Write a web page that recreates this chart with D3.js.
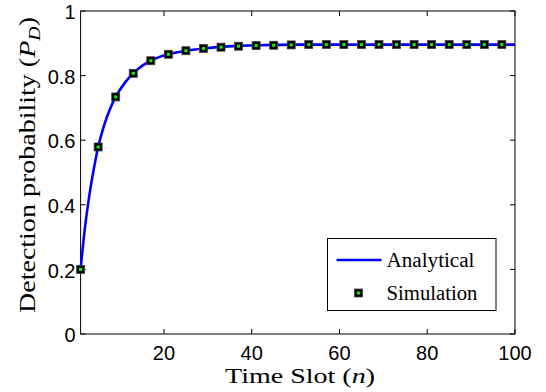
<!DOCTYPE html>
<html>
<head>
<meta charset="utf-8">
<script src="https://cdn.jsdelivr.net/npm/d3@7"></script>
<style>
  html, body { margin: 0; padding: 0; background: #fff; }
  svg { display: block; }
</style>
</head>
<body>
<svg id="chart" width="546" height="392"></svg>
<script>
// ---- data ----
const analyticalN = [1, 2, 3, 4, 5, 6, 7, 8, 9, 10, 11, 12, 13, 15, 17, 19, 21, 25, 29, 33, 37, 41, 50, 60, 70, 80, 90, 100];
const analyticalP = [0.2, 0.33, 0.43, 0.51, 0.579, 0.63, 0.672, 0.706, 0.734, 0.757, 0.776, 0.793, 0.807, 0.83, 0.846, 0.858, 0.866, 0.877, 0.884, 0.889, 0.892, 0.894, 0.896, 0.896, 0.896, 0.896, 0.896, 0.896];
const simulationN = [1, 5, 9, 13, 17, 21, 25, 29, 33, 37, 41, 45, 49, 53, 57, 61, 65, 69, 73, 77, 81, 85, 89, 93, 97];
const simulationP = [0.2, 0.579, 0.734, 0.807, 0.846, 0.866, 0.877, 0.884, 0.888, 0.891, 0.893, 0.894, 0.895, 0.896, 0.896, 0.896, 0.896, 0.896, 0.896, 0.896, 0.896, 0.896, 0.896, 0.896, 0.896];
const xTicks = [20, 40, 60, 80, 100];
const yTicks = [0, 0.2, 0.4, 0.6, 0.8, 1];
const yTickLabels = ["0", "0.2", "0.4", "0.6", "0.8", "1"];
const legendLabels = ["Analytical", "Simulation"];

// ---- layout ----
const svg = d3.select("#chart");
const L = 80.6, R = 515, T = 11, B = 334;
const x = d3.scaleLinear().domain([1, 100]).range([L, R]);
const y = d3.scaleLinear().domain([0, 1]).range([B, T]);
const sansFont = "'Liberation Sans', Arial, Helvetica, sans-serif";
const serifFont = "'Liberation Serif', 'Times New Roman', serif";

// box
svg.append("rect").attr("x", L).attr("y", T).attr("width", R - L).attr("height", B - T)
  .attr("fill", "none").attr("stroke", "#000").attr("stroke-width", 1);

const tl = 5;
// x ticks (bottom & top, inward)
const gx = svg.append("g");
xTicks.forEach(v => {
  const px = x(v);
  gx.append("line").attr("x1", px).attr("x2", px).attr("y1", B).attr("y2", B - tl).attr("stroke", "#000");
  gx.append("line").attr("x1", px).attr("x2", px).attr("y1", T).attr("y2", T + tl).attr("stroke", "#000");
  gx.append("text").attr("x", px).attr("y", 359.5).attr("text-anchor", "middle")
    .attr("font-family", sansFont).attr("font-size", 20).text(v);
});
// y ticks (left & right, inward)
const gy = svg.append("g");
yTicks.forEach((v, i) => {
  const py = y(v);
  gy.append("line").attr("x1", L).attr("x2", L + tl).attr("y1", py).attr("y2", py).attr("stroke", "#000");
  gy.append("line").attr("x1", R).attr("x2", R - tl).attr("y1", py).attr("y2", py).attr("stroke", "#000");
  gy.append("text").attr("x", 75.5).attr("y", py + 3).attr("text-anchor", "end")
    .attr("dominant-baseline", "middle")
    .attr("font-family", sansFont).attr("font-size", 20).text(yTickLabels[i]);
});

// analytical line
const lineData = analyticalN.map((n, i) => [n, analyticalP[i]]);
const line = d3.line().x(d => x(d[0])).y(d => y(d[1])).curve(d3.curveMonotoneX);
svg.append("path").datum(lineData).attr("d", line)
  .attr("fill", "none").attr("stroke", "#0000ff").attr("stroke-width", 2.6);

// simulation markers
function marker(g, cx, cy) {
  g.append("rect").attr("x", cx - 4).attr("y", cy - 4).attr("width", 8).attr("height", 8)
    .attr("fill", "#000").attr("stroke", "#444").attr("stroke-width", 0.8);
  g.append("rect").attr("x", cx - 1.5).attr("y", cy - 1.5).attr("width", 3).attr("height", 3)
    .attr("fill", "#00ff00");
}
const gm = svg.append("g");
simulationN.forEach((n, i) => marker(gm, x(n), y(simulationP[i])));

// legend
const lg = svg.append("g");
lg.append("rect").attr("x", 327.5).attr("y", 238.5).attr("width", 168.5).attr("height", 72)
  .attr("fill", "#fff").attr("stroke", "#000").attr("stroke-width", 1);
lg.append("line").attr("x1", 336.5).attr("x2", 381.5).attr("y1", 260).attr("y2", 260)
  .attr("stroke", "#0000ff").attr("stroke-width", 2.6);
lg.append("text").attr("x", 386.5).attr("y", 266.5).attr("font-family", serifFont).attr("font-size", 20)
  .attr("textLength", 88).attr("lengthAdjust", "spacingAndGlyphs").text(legendLabels[0]);
marker(lg, 358.5, 293);
lg.append("text").attr("x", 386.5).attr("y", 299.5).attr("font-family", serifFont).attr("font-size", 20)
  .attr("textLength", 91).attr("lengthAdjust", "spacingAndGlyphs").text(legendLabels[1]);

// x axis label
const xl = svg.append("text").attr("x", 300).attr("y", 383).attr("text-anchor", "middle")
  .attr("font-family", serifFont).attr("font-size", 22)
  .attr("textLength", 150).attr("lengthAdjust", "spacingAndGlyphs");
xl.append("tspan").text("Time Slot (");
xl.append("tspan").attr("font-style", "italic").text("n");
xl.append("tspan").text(")");

// y axis label
const yl = svg.append("text").attr("transform", "translate(35,165) rotate(-90)")
  .attr("text-anchor", "middle")
  .attr("font-family", serifFont).attr("font-size", 22.5)
  .attr("textLength", 296).attr("lengthAdjust", "spacingAndGlyphs");
yl.append("tspan").text("Detection probability (");
yl.append("tspan").attr("font-style", "italic").text("P");
yl.append("tspan").attr("font-style", "italic").attr("font-size", 16).attr("dy", 5).text("D");
yl.append("tspan").attr("dy", -5).text(")");
</script>
</body>
</html>
